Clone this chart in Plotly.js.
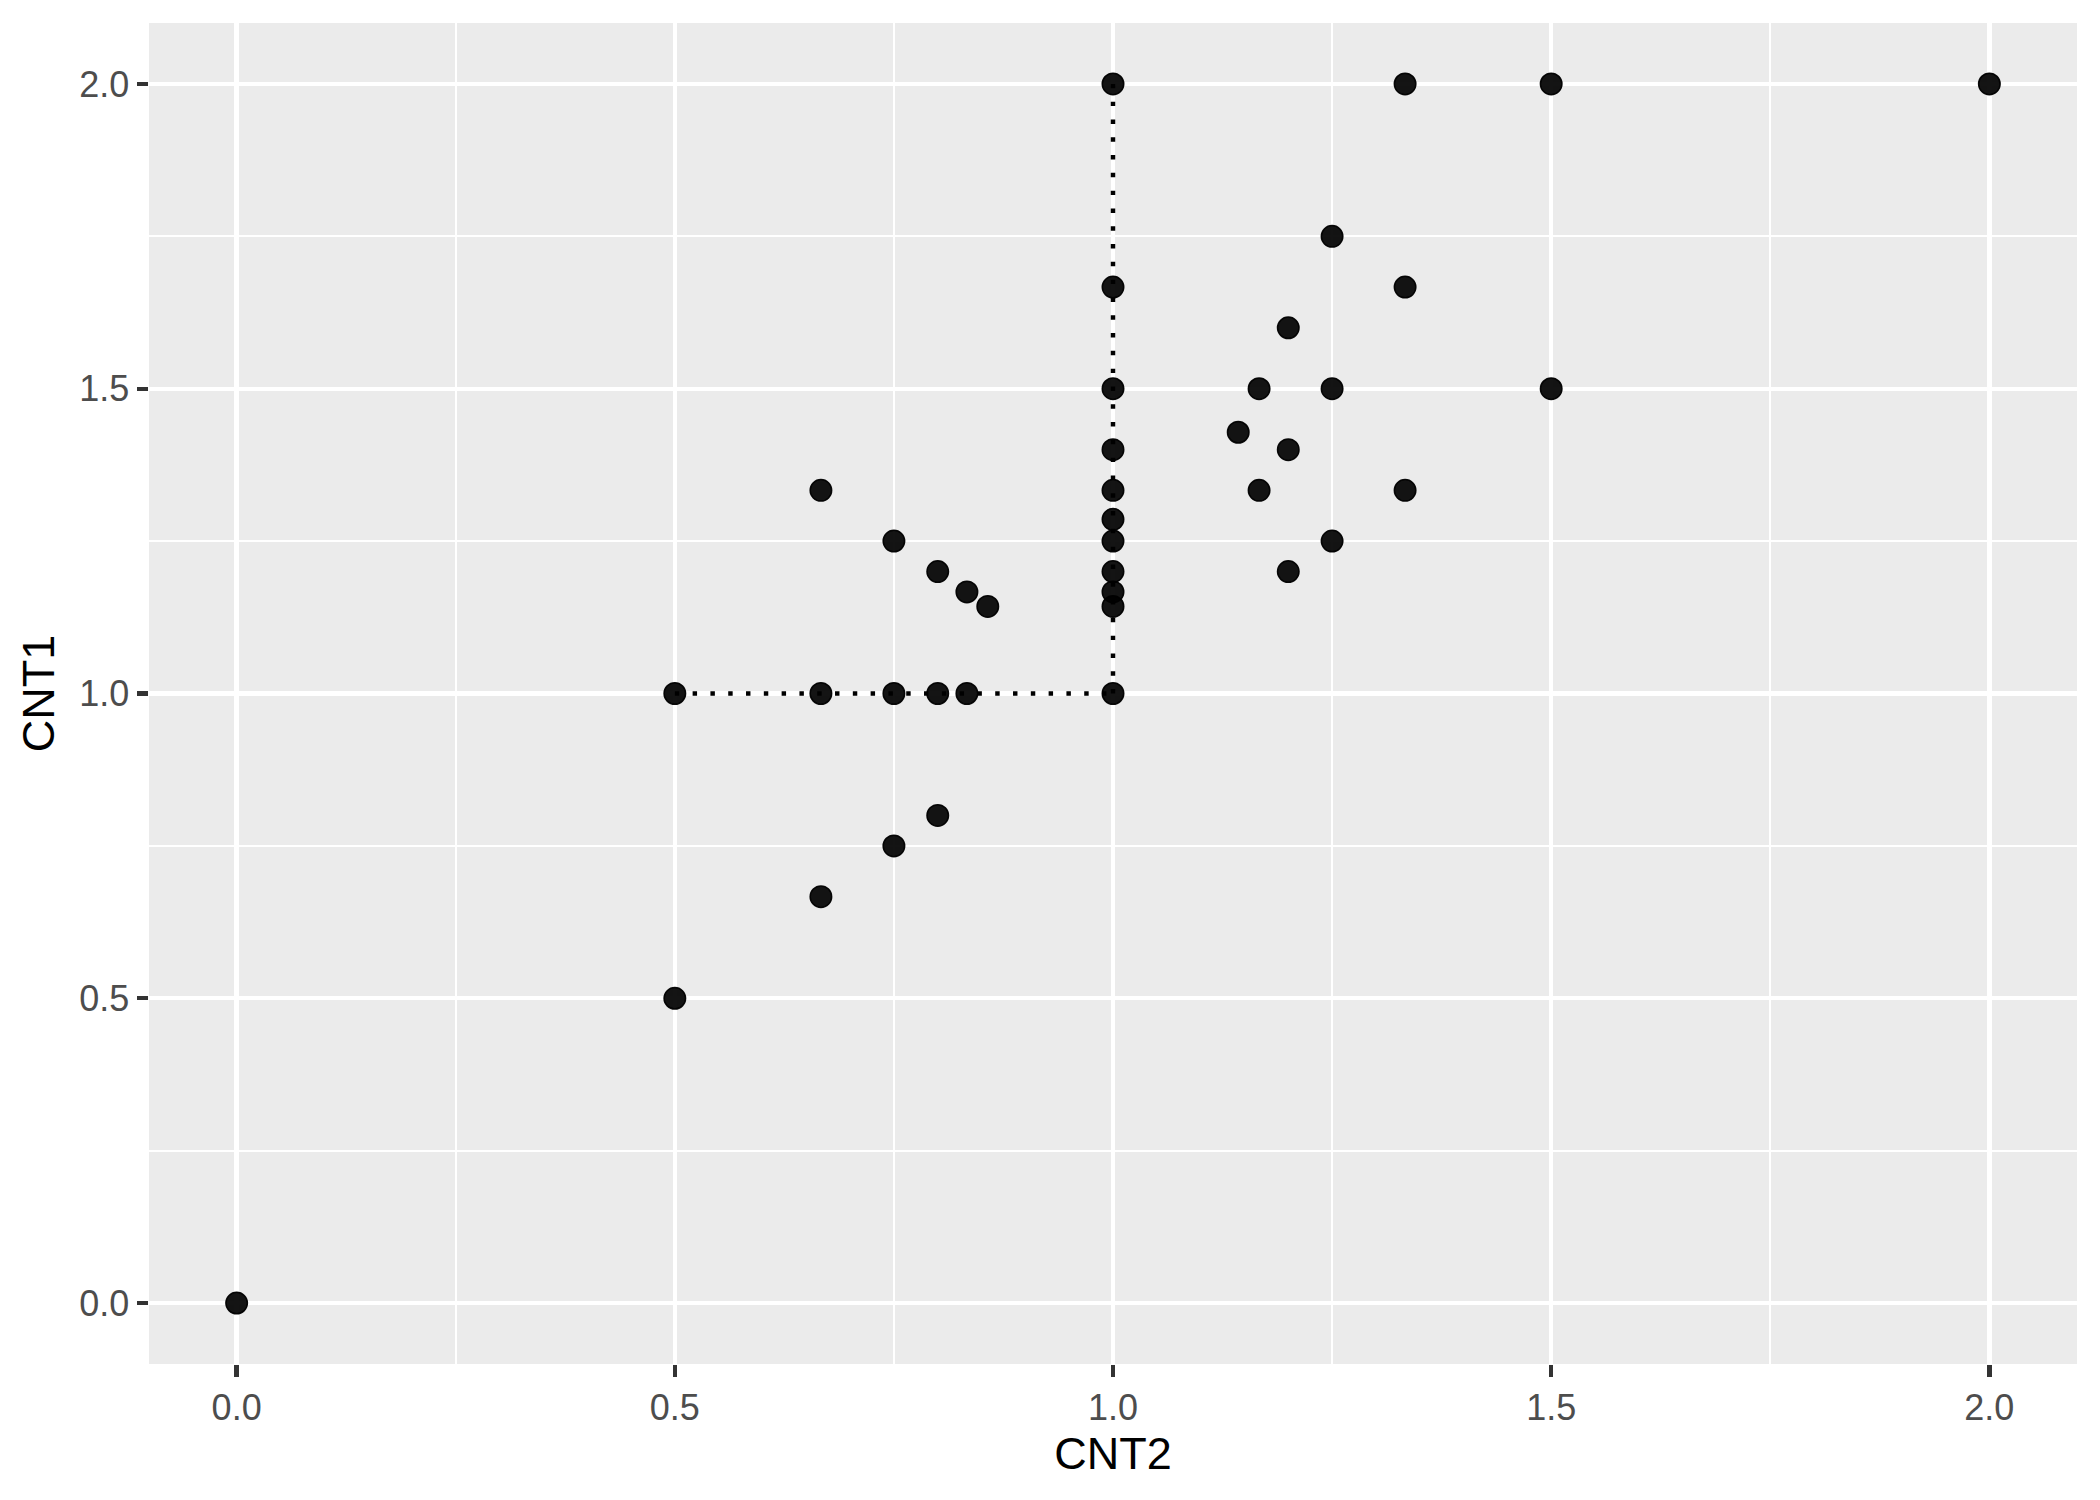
<!DOCTYPE html>
<html>
<head>
<meta charset="utf-8">
<script src="https://cdn.plot.ly/plotly-3.0.1.min.js"></script>
<style>html,body{margin:0;padding:0;background:#fff;}#chart{width:2100px;height:1500px;}</style>
</head>
<body>
<div id="chart"></div>
<script>
// Data (x = CNT2, y = CNT1)
var cnt2 = [0, 0.5, 0.5, 0.6667, 0.6667, 0.6667, 0.75, 0.75, 0.75, 0.8, 0.8, 0.8, 0.8333, 0.8333, 0.8571,
            1, 1, 1, 1, 1, 1, 1, 1, 1, 1, 1,
            1.1429, 1.1667, 1.1667, 1.2, 1.2, 1.2, 1.25, 1.25, 1.25, 1.3333, 1.3333, 1.3333, 1.5, 1.5, 2];
var cnt1 = [0, 0.5, 1, 1.3333, 1, 0.6667, 1.25, 1, 0.75, 1.2, 1, 0.8, 1.1667, 1, 1.1429,
            2, 1.6667, 1.5, 1.4, 1.3333, 1.2857, 1.25, 1.2, 1.1667, 1.1429, 1,
            1.4286, 1.5, 1.3333, 1.6, 1.4, 1.2, 1.75, 1.5, 1.25, 2, 1.6667, 1.3333, 2, 1.5, 2];
// dotted reference segments
var hSegX = [0.5, 1];
var hSegY = [1, 1];
var vSegX = [1, 1];
var vSegY = [1, 2];
var tickVals = [0, 0.5, 1, 1.5, 2];
var tickText = ['0.0', '0.5', '1.0', '1.5', '2.0'];

var dotLine = {color: '#000000', width: 4.45, dash: '4.45px,13.35px'};
var traces = [
  {x: hSegX, y: hSegY, mode: 'lines', type: 'scatter', line: dotLine, hoverinfo: 'skip', showlegend: false},
  {x: vSegX, y: vSegY, mode: 'lines', type: 'scatter', line: dotLine, hoverinfo: 'skip', showlegend: false},
  {x: cnt2, y: cnt1, mode: 'markers', type: 'scatter', showlegend: false,
   marker: {size: 21.5, color: 'rgba(0,0,0,0.92)', line: {width: 1.5, color: 'rgba(0,0,0,0.95)'}}}
];

function axis(titleText, standoff) {
  return {
    range: [-0.1, 2.1],
    tickmode: 'array', tickvals: tickVals, ticktext: tickText,
    showgrid: true, gridcolor: '#FFFFFF', gridwidth: 4.45,
    minor: {dtick: 0.25, tick0: 0, showgrid: true, gridcolor: '#FFFFFF', gridwidth: 2.2, ticklen: 0},
    zeroline: false, showline: false,
    ticks: 'outside', ticklen: 11.5, tickwidth: 4.45, tickcolor: '#333333',
    tickfont: {family: 'Liberation Sans, Arial, sans-serif', size: 36, color: '#4D4D4D'},
    title: {text: titleText, standoff: standoff, font: {family: 'Liberation Sans, Arial, sans-serif', size: 45, color: '#000000'}},
    automargin: false
  };
}

var layout = {
  width: 2100, height: 1500,
  margin: {l: 149, r: 23, t: 23, b: 136},
  paper_bgcolor: '#FFFFFF',
  plot_bgcolor: '#EBEBEB',
  xaxis: axis('CNT2', 10),
  yaxis: axis('CNT1', 10),
  showlegend: false
};

Plotly.newPlot('chart', traces, layout, {staticPlot: true});
</script>
</body>
</html>
